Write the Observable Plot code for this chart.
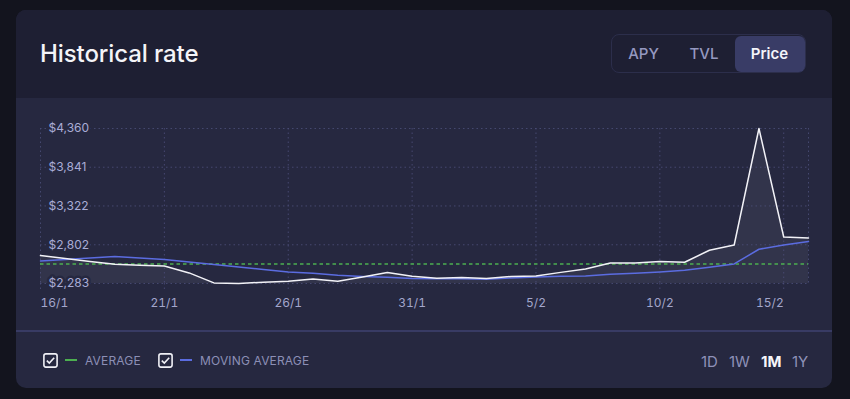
<!DOCTYPE html>
<html><head><meta charset="utf-8">
<script src="https://cdn.jsdelivr.net/npm/d3@7"></script>
<script src="https://cdn.jsdelivr.net/npm/@observablehq/plot@0.6"></script>
<style>
html,body{margin:0;padding:0;background:#13141e;width:850px;height:399px;overflow:hidden;font-family:Inter,"Noto Sans",sans-serif;}
.card{position:absolute;left:16px;top:10px;width:816px;height:378px;border-radius:10px;overflow:hidden;background:#262840;}
.header{position:absolute;left:0;top:0;width:816px;height:88px;background:#1e1f33;}
.title{position:absolute;left:24px;top:32px;font-size:24px;line-height:24px;font-weight:500;color:#f4f4f8;letter-spacing:-0.1px;}
.group{position:absolute;left:595px;top:24px;width:193px;height:37px;border:1.5px solid #2c2e4b;border-radius:8px;}
.btn{position:absolute;top:0;height:37px;line-height:37px;text-align:center;font-size:15px;color:#9598c0;font-weight:500;}
.btn.active{background:#393c66;color:#f4f4fa;font-weight:600;border-radius:6px;top:0.5px;height:36px;line-height:36px;}
#chart{position:absolute;left:0;top:88px;width:816px;height:232px;}
.sep{position:absolute;left:0;top:320px;width:816px;height:1.5px;background:#383b64;}
.footer{position:absolute;left:0;top:321.5px;width:816px;height:56px;}
.leg{position:absolute;top:21px;display:flex;align-items:center;font-size:12px;color:#8c8fb6;letter-spacing:0.15px;}
.leg svg{display:block}
.dash{width:12px;height:2px;margin:0 8px 0 7px;}
.range{position:absolute;top:20px;font-size:15px;color:#8e91b8;}
.range.active{color:#f6f6fa;font-weight:700;}
</style></head>
<body>
<div class="card">
  <div class="header">
    <div class="title">Historical rate</div>
    <div class="group">
      <div class="btn" style="left:1px;width:61px;">APY</div>
      <div class="btn" style="left:62px;width:60px;">TVL</div>
      <div class="btn active" style="left:122.5px;width:70px;">Price</div>
    </div>
  </div>
  <div id="chart"></div>
  <div class="sep"></div>
  <div class="footer">
    <div class="leg" style="left:27px;">
      <svg width="15" height="15" viewBox="0 0 15 15"><rect x="0.9" y="0.9" width="13.2" height="13.2" rx="2" fill="none" stroke="#f0f0f6" stroke-width="1.6"/><path d="M3.8 7.6 L6.3 10 L11.2 4.8" fill="none" stroke="#f0f0f6" stroke-width="1.6"/></svg>
      <div class="dash" style="background:#4caf50"></div><span>AVERAGE</span>
    </div>
    <div class="leg" style="left:142px;">
      <svg width="15" height="15" viewBox="0 0 15 15"><rect x="0.9" y="0.9" width="13.2" height="13.2" rx="2" fill="none" stroke="#f0f0f6" stroke-width="1.6"/><path d="M3.8 7.6 L6.3 10 L11.2 4.8" fill="none" stroke="#f0f0f6" stroke-width="1.6"/></svg>
      <div class="dash" style="background:#5b6ce0"></div><span>MOVING AVERAGE</span>
    </div>
    <div class="range" style="left:685px;">1D</div>
    <div class="range" style="left:713px;">1W</div>
    <div class="range active" style="left:745px;">1M</div>
    <div class="range" style="left:776px;">1Y</div>
  </div>
</div>
<script>
const dates = ["2022-01-16","2022-01-17","2022-01-18","2022-01-19","2022-01-20","2022-01-21","2022-01-22","2022-01-23",
  "2022-01-24","2022-01-25","2022-01-26","2022-01-27","2022-01-28","2022-01-29","2022-01-30","2022-01-31",
  "2022-02-01","2022-02-02","2022-02-03","2022-02-04","2022-02-05","2022-02-06","2022-02-07","2022-02-08",
  "2022-02-09","2022-02-10","2022-02-11","2022-02-12","2022-02-13","2022-02-14","2022-02-15","2022-02-16"];
const price = [2657, 2619, 2578, 2541, 2528, 2518, 2425, 2291, 2283, 2300, 2314, 2344, 2314, 2371, 2430, 2381,
  2354, 2363, 2350, 2377, 2385, 2432, 2478, 2558, 2558, 2577, 2568, 2728, 2799, 4360, 2906, 2893];
const movingAvg = [2585, 2605, 2625, 2644, 2624, 2604, 2570, 2537, 2503, 2470, 2438, 2421, 2394, 2378, 2367, 2351,
  2347, 2345, 2341, 2358, 2371, 2381, 2385, 2407, 2421, 2438, 2461, 2501, 2545, 2742, 2799, 2845];
const average = [2545];
const yTicks = [2283, 2802, 3322, 3841, 4360];
const xTickDates = ["2022-01-16","2022-01-21","2022-01-26","2022-01-31","2022-02-05","2022-02-10","2022-02-15"];
const xTickLabels = ["16/1","21/1","26/1","31/1","5/2","10/2","15/2"];

const data = dates.map((d, i) => ({date: new Date(d), price: price[i], ma: movingAvg[i]}));
const xt = xTickDates.map(d => new Date(d));
const labelOf = d => xTickLabels[xt.findIndex(t => +t === +d)];
const gridStyle = {stroke: "#4b4e78", strokeOpacity: 0.85, strokeDasharray: "1.5,3"};
const axisStyle = {tickSize: 7, tickPadding: 8, tickFormat: labelOf, fill: "#a3a6cc", fontSize: 12, ...gridStyle};

const chart = Plot.plot({
  width: 816, height: 232,
  marginLeft: 24, marginRight: 24, marginTop: 30, marginBottom: 47,
  style: {background: "transparent", fontFamily: "Inter, 'Noto Sans', sans-serif", overflow: "visible"},
  x: {type: "utc", domain: [new Date(dates[0]), new Date(dates[dates.length - 1])]},
  y: {domain: [yTicks[0], yTicks[yTicks.length - 1]], axis: null},
  marks: [
    Plot.areaY(data, {x: "date", y1: yTicks[0], y2: "price", fill: "#ffffff", fillOpacity: 0.06}),
    Plot.gridY(yTicks, gridStyle),
    Plot.gridX(xt, gridStyle),
    Plot.ruleX([new Date(dates[dates.length - 1])], gridStyle),
    Plot.axisX(xt.slice(0, 1), {...axisStyle, textAnchor: "start"}),
    Plot.axisX(xt.slice(1, -1), axisStyle),
    Plot.axisX(xt.slice(-1), {...axisStyle, textAnchor: "end"}),
    Plot.ruleY(average, {stroke: "#4caf50", strokeDasharray: "3.5,3", strokeWidth: 1.4}),
    Plot.lineY(data, {x: "date", y: "ma", stroke: "#5b6ce0", strokeWidth: 1.5}),
    Plot.lineY(data, {x: "date", y: "price", stroke: "#f2f2f7", strokeWidth: 1.5}),
    Plot.text(yTicks, {y: d => d, frameAnchor: "left", dx: 8, textAnchor: "start",
      text: d => "$" + d3.format(",")(d), fill: "#a9acd6", stroke: "#262840", strokeWidth: 5, fontSize: 12})
  ]
});
document.getElementById("chart").appendChild(chart);
</script>
</body></html>
